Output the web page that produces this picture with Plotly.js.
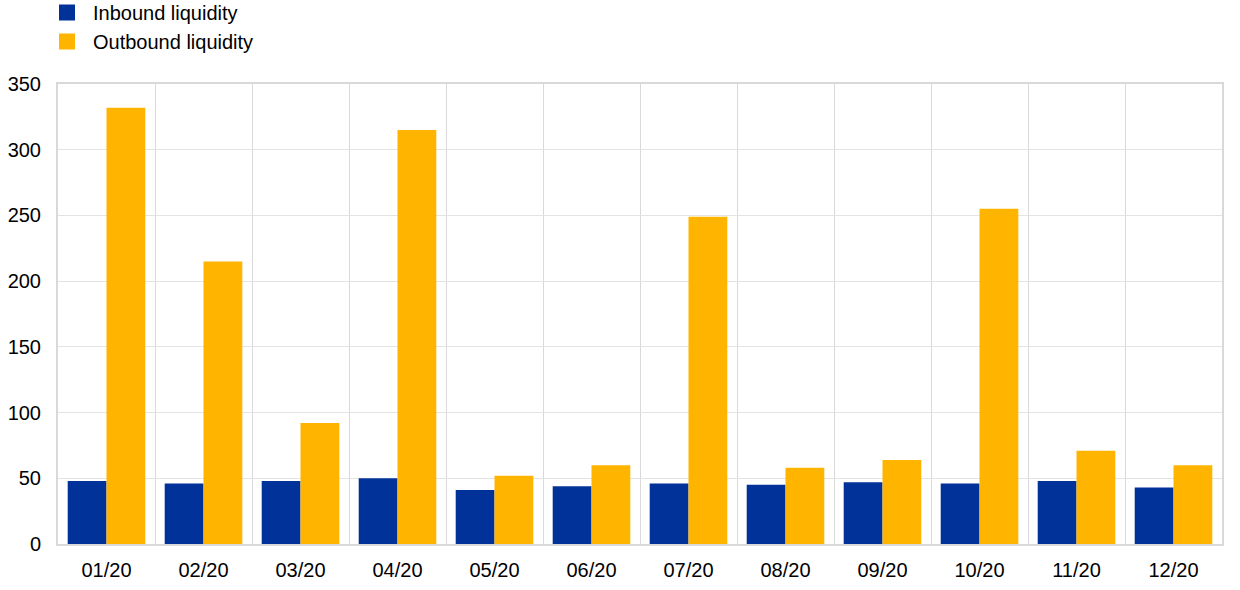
<!DOCTYPE html>
<html>
<head>
<meta charset="utf-8">
<script src="https://cdn.plot.ly/plotly-3.0.1.min.js"></script>
<style>html,body{margin:0;padding:0;background:#fff;}#chart{width:1240px;height:590px;}</style>
</head>
<body>
<div id="chart"></div>
<script>
const categories = ["01/20","02/20","03/20","04/20","05/20","06/20","07/20","08/20","09/20","10/20","11/20","12/20"];
const inbound = [48, 46, 48, 50, 41, 44, 46, 45, 47, 46, 48, 43];
const outbound = [332, 215, 92, 315, 52, 60, 249, 58, 64, 255, 71, 60];
const seriesNames = ["Inbound liquidity", "Outbound liquidity"];
const seriesColors = ["#003299", "#ffb400"];
const idx = categories.map((c, i) => i);

const traces = [
  {type: 'bar', name: seriesNames[0], x: idx, y: inbound, marker: {color: seriesColors[0]}, showlegend: false},
  {type: 'bar', name: seriesNames[1], x: idx, y: outbound, marker: {color: seriesColors[1]}, showlegend: false},
  {type: 'scatter', mode: 'markers', name: seriesNames[0], x: [null], y: [null],
   marker: {symbol: 'square', size: 17, color: seriesColors[0]}, showlegend: true},
  {type: 'scatter', mode: 'markers', name: seriesNames[1], x: [null], y: [null],
   marker: {symbol: 'square', size: 17, color: seriesColors[1]}, showlegend: true}
];

const layout = {
  width: 1240, height: 590,
  margin: {l: 58, r: 18, t: 84, b: 46, autoexpand: false},
  paper_bgcolor: '#fff', plot_bgcolor: '#fff',
  font: {family: 'Liberation Sans, Arial, sans-serif', size: 20, color: '#000'},
  barmode: 'group', bargap: 0.2, bargroupgap: 0,
  showlegend: true,
  legend: {x: (41 - 58) / 1164, xref: 'paper', xanchor: 'left', y: (544 + 7) / 460, yref: 'paper', yanchor: 'top',
           font: {size: 20}, orientation: 'v', tracegroupgap: 0, itemwidth: 42, itemsizing: 'trace'},
  xaxis: {
    type: 'linear', range: [-0.5, 11.5], tickvals: idx, ticktext: categories,
    showgrid: false, zeroline: false, ticks: '', ticklabelstandoff: 7,
    showline: true, linecolor: '#d9d9d9', linewidth: 2, mirror: true,
    minor: {tick0: 0.5, dtick: 1, showgrid: true, gridcolor: '#d9d9d9', gridwidth: 1, ticks: ''},
    tickfont: {size: 20}
  },
  yaxis: {
    range: [0, 350], dtick: 50, tick0: 0, showgrid: true, gridcolor: '#e3e3e3', gridwidth: 1,
    zeroline: false, showline: true, linecolor: '#d9d9d9', linewidth: 2, mirror: true,
    ticks: '', ticklabelstandoff: 11, tickfont: {size: 20}
  }
};

Plotly.newPlot('chart', traces, layout, {displayModeBar: false, staticPlot: true});
</script>
</body>
</html>
